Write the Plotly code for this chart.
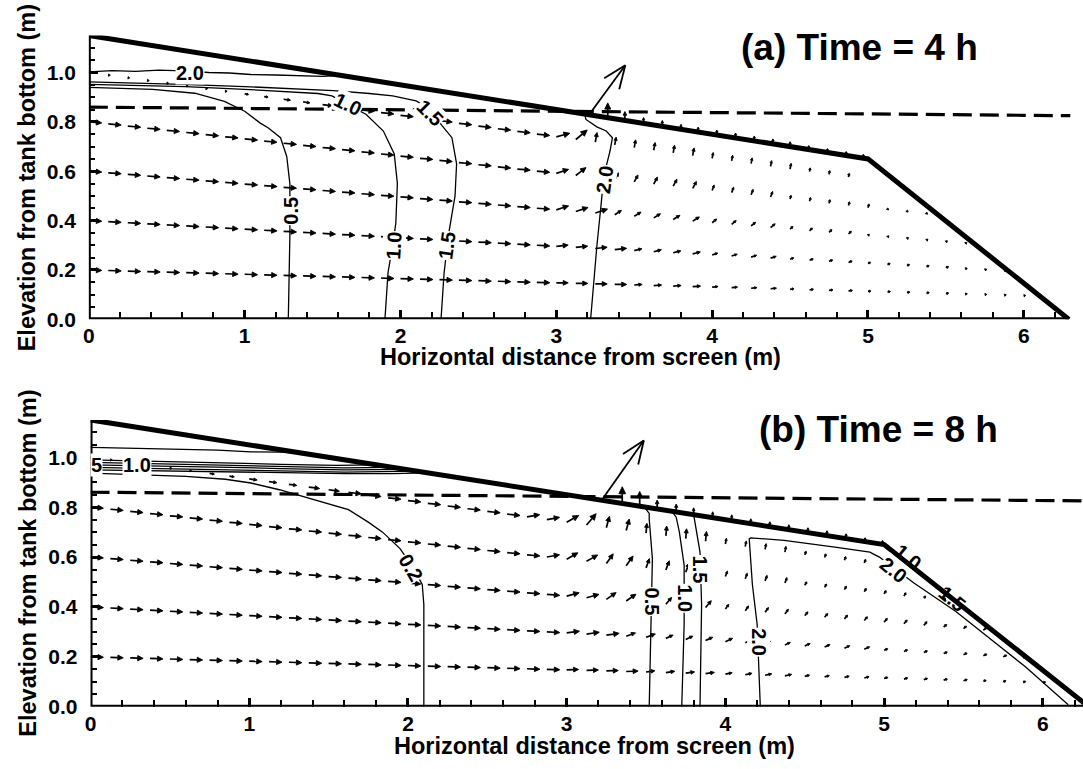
import math
import numpy as np
import plotly.graph_objects as go

W, H = 1083, 769
FONT = "Liberation Sans, Arial, Helvetica, sans-serif"

# ---------------- data ----------------
TANK_TOP_X = [0.0, 5.0, 6.29]
TANK_TOP_Y = [1.15, 0.65, 0.0]
TANK_WALL_X = [0.0, 0.0, 6.29]
TANK_WALL_Y = [1.15, 0.0, 0.0]
WATER_X = [0.0, 6.3]
WATER_Y = [0.86, 0.825]
GRID_TOP_X = [0.0, 6.3]
GRID_TOP_Y = [1.15, 0.52]
ROW_S = [0.174, 0.348, 0.522, 0.696, 0.87]
COL_X = [0.0, 0.125, 0.25, 0.375, 0.5, 0.625, 0.75, 0.875, 1.0, 1.125, 1.25, 1.375,
         1.5, 1.625, 1.75, 1.875, 2.0, 2.125, 2.25, 2.375, 2.5, 2.625, 2.75, 2.875,
         3.0, 3.125, 3.25, 3.375, 3.5, 3.625, 3.75, 3.875, 4.0, 4.125, 4.25, 4.375,
         4.5, 4.625, 4.75, 4.875, 5.0, 5.125, 5.25, 5.375, 5.5, 5.625, 5.75, 5.875,
         6.0, 6.125, 6.25]
X_TICKS = [0, 1, 2, 3, 4, 5, 6]

# velocity bands per grid row: (x from, x to, speed, direction deg)
VEL_A = [
    [(0.0, 3.0, 13, -2), (3.0, 3.4, 12, 0), (3.4, 3.9, 8, 4), (3.9, 4.4, 6, 6), (4.4, 5.0, 4, 8), (5.0, 5.6, 3, 10), (5.6, 6.3, 2, 10)],
    [(0.0, 3.0, 13, -3), (3.0, 3.4, 12, 6), (3.4, 3.9, 8, 14), (3.9, 4.4, 6, 18), (4.4, 5.0, 4, 22), (5.0, 5.6, 3, 25), (5.6, 6.3, 2, 25)],
    [(0.0, 3.0, 13, -4), (3.0, 3.3, 13, 18), (3.3, 3.9, 8, 32), (3.9, 4.4, 6, 40), (4.4, 5.0, 4, 45), (5.0, 6.3, 2, 45)],
    [(0.0, 2.9, 13, -5), (2.9, 3.1, 13, 18), (3.1, 3.3, 13, 38), (3.3, 3.9, 8, 62), (3.9, 4.5, 6, 70), (4.5, 5.1, 4, 75), (5.1, 6.3, 2, 75)],
    [(0.0, 1.0, 2, -5), (1.0, 1.25, 4, -8), (1.25, 1.5, 7, -8), (1.5, 1.75, 10, -8), (1.75, 2.9, 13, -6), (2.9, 3.05, 14, 15),
     (3.05, 3.2, 15, 40), (3.2, 3.35, 10, 80), (3.35, 4.0, 8, 80), (4.0, 4.6, 6, 80), (4.6, 5.0, 4, 80)],
]
VEL_B = [
    [(0.0, 3.0, 13, -2), (3.0, 3.4, 12, 2), (3.4, 3.9, 9, 8), (3.9, 4.4, 7, 12), (4.4, 5.0, 5, 15), (5.0, 5.6, 4, 18), (5.6, 6.3, 3, 20)],
    [(0.0, 3.0, 13, -3), (3.0, 3.3, 13, 8), (3.3, 3.6, 10, 20), (3.6, 4.2, 8, 25), (4.2, 5.0, 6, 25), (5.0, 6.3, 4, 25)],
    [(0.0, 2.9, 13, -4), (2.9, 3.2, 13, 15), (3.2, 3.5, 12, 35), (3.5, 3.9, 9, 50), (3.9, 4.5, 6, 55), (4.5, 5.3, 5, 50), (5.3, 6.3, 4, 40)],
    [(0.0, 2.8, 13, -5), (2.8, 3.0, 13, 10), (3.0, 3.25, 13, 30), (3.25, 3.5, 12, 55), (3.5, 3.9, 10, 70), (3.9, 4.5, 6, 70),
     (4.5, 5.2, 4, 60), (5.2, 6.3, 3, 50)],
    [(0.0, 0.75, 2, -5), (0.75, 1.0, 5, -8), (1.0, 1.3, 8, -8), (1.3, 1.6, 11, -8), (1.6, 2.7, 13, -6), (2.7, 2.95, 13, 10),
     (2.95, 3.1, 14, 30), (3.1, 3.25, 15, 50), (3.25, 3.45, 12, 75), (3.45, 3.9, 10, 85), (3.9, 4.5, 6, 80), (4.5, 5.0, 4, 70)],
]

# outflow vectors on the free surface
SURF_A_X = [3.21, 3.33, 3.44, 3.56, 3.68, 3.80, 3.91, 4.03, 4.15, 4.27, 4.39, 4.50, 4.62, 4.74, 4.86, 4.97]
SURF_A_SPD = [62, 15, 9, 6, 6, 5, 5, 5, 5, 5, 5, 5, 4, 4, 4, 4]
SURF_A_DIR = [54, 90, 90, 90, 90, 90, 90, 90, 90, 90, 90, 90, 90, 90, 90, 90]
SURF_B_X = [3.22, 3.35, 3.46, 3.57, 3.69, 3.80, 3.92, 4.04, 4.16, 4.28, 4.40, 4.52, 4.64, 4.76, 4.88, 4.99]
SURF_B_SPD = [74, 17, 15, 9, 8, 7, 6, 6, 5, 5, 5, 5, 5, 5, 4, 4]
SURF_B_DIR = [55, 90, 90, 90, 90, 90, 90, 90, 90, 90, 90, 90, 90, 90, 90, 90]

# contour lines (x list, y list)
CONT_A = [
    ([0.0, 0.15, 0.3, 0.45, 0.6, 0.77, 0.9, 1.04, 1.2, 1.36, 1.5, 1.62],
     [1.003, 1.008, 1.005, 1.01, 1.007, 1.0, 0.998, 0.992, 0.99, 0.986, 0.984, 0.988]),
    ([0.0, 0.3, 0.6, 1.0, 1.3, 1.57, 1.8, 1.95, 2.1, 2.2, 2.26, 2.33, 2.36, 2.35, 2.31, 2.28, 2.26],
     [0.962, 0.958, 0.952, 0.943, 0.935, 0.927, 0.915, 0.905, 0.885, 0.85, 0.79, 0.736, 0.63, 0.5, 0.35, 0.19, 0.0]),
    ([0.0, 0.3, 0.62, 1.0, 1.2, 1.47, 1.56, 1.66, 1.74, 1.78, 1.89, 1.96, 1.98, 1.97, 1.95, 1.92, 1.9],
     [0.952, 0.947, 0.943, 0.932, 0.925, 0.915, 0.905, 0.87, 0.845, 0.83, 0.763, 0.67, 0.55, 0.39, 0.3, 0.19, 0.0]),
    ([0.0, 0.2, 0.41, 0.68, 0.87, 1.0, 1.1, 1.15, 1.23, 1.27, 1.29, 1.29, 1.28],
     [0.94, 0.936, 0.932, 0.916, 0.883, 0.843, 0.795, 0.776, 0.736, 0.66, 0.55, 0.336, 0.0]),
    ([3.18, 3.19, 3.26, 3.32, 3.36, 3.345, 3.32, 3.30, 3.29, 3.26, 3.22],
     [0.836, 0.81, 0.78, 0.763, 0.736, 0.683, 0.62, 0.55, 0.483, 0.296, 0.0]),
]
LABELS_A = [("2.0", 0.65, 1.0, 0, True), ("1.0", 1.66, 0.872, 26, True), ("1.5", 2.19, 0.835, 45, True),
            ("0.5", 1.297, 0.44, -90, True), ("1.0", 1.96, 0.30, -86, True), ("1.5", 2.30, 0.30, -82, True),
            ("2.0", 3.31, 0.565, -82, True)]

CONT_B = [
    ([0.0, 0.2, 0.4, 0.6, 0.8, 1.01, 1.2, 1.33], [1.04, 1.037, 1.036, 1.031, 1.029, 1.022, 1.021, 1.017]),
    ([0.0, 0.4, 0.8, 1.2, 1.55, 1.8], [0.99, 0.983, 0.978, 0.972, 0.968, 0.97]),
    ([0.0, 0.4, 0.8, 1.2, 1.6, 1.9], [0.98, 0.975, 0.97, 0.964, 0.958, 0.96]),
    ([0.0, 0.4, 0.8, 1.2, 1.6, 1.98], [0.97, 0.966, 0.961, 0.955, 0.95, 0.952]),
    ([0.0, 0.4, 0.8, 1.2, 1.6, 2.05], [0.96, 0.955, 0.951, 0.946, 0.941, 0.945]),
    ([0.0, 0.4, 0.8, 1.2, 1.6, 1.9, 2.12], [0.95, 0.946, 0.942, 0.938, 0.935, 0.935, 0.938]),
    ([0.0, 0.3, 0.6, 0.85, 1.01, 1.19, 1.4, 1.625, 1.75, 1.84, 1.95, 2.03, 2.09, 2.10, 2.10],
     [0.937, 0.93, 0.924, 0.912, 0.897, 0.87, 0.83, 0.79, 0.74, 0.70, 0.634, 0.56, 0.49, 0.41, 0.0]),
    ([3.38, 3.45, 3.49, 3.52, 3.52, 3.54, 3.535, 3.53, 3.52],
     [0.812, 0.805, 0.80, 0.775, 0.752, 0.594, 0.45, 0.33, 0.0]),
    ([3.66, 3.69, 3.71, 3.74, 3.74, 3.725], [0.785, 0.76, 0.70, 0.568, 0.33, 0.0]),
    ([3.80, 3.815, 3.84, 3.85, 3.84], [0.77, 0.713, 0.62, 0.41, 0.0]),
    ([4.22, 4.21, 4.20, 4.17, 4.15, 4.15, 4.16, 4.37, 4.69, 4.91, 4.97, 5.064, 5.19, 5.45, 5.89, 6.16],
     [0.0, 0.17, 0.33, 0.49, 0.647, 0.673, 0.677, 0.667, 0.64, 0.62, 0.60, 0.555, 0.495, 0.383, 0.16, 0.008]),
]
LABELS_B = [("5", 0.035, 0.968, 0, True), ("1.0", 0.29, 0.968, 0, True), ("0.2", 2.02, 0.557, 60, True),
            ("0.5", 3.54, 0.42, 90, True), ("1.0", 3.745, 0.435, 90, True), ("1.5", 3.84, 0.55, 90, True),
            ("2.0", 4.21, 0.26, 90, True), ("2.0", 5.06, 0.55, 39, True), ("1.0", 5.15, 0.60, 39, False),
            ("1.5", 5.43, 0.43, 39, False)]

# ---------------- layout geometry ----------------
PANELS = [
    dict(name="a", xa="x", ya="y", x0=83.3, x1=1070.5, xmax=6.3, yt=36.0, yb=324.0,
         vel=VEL_A, sx=SURF_A_X, ss=SURF_A_SPD, sd=SURF_A_DIR, cont=CONT_A, labels=LABELS_A,
         title="(a) Time = 4 h", tpos=(858, 48), xt=(578, 362), yt_pos=(22, 180)),
    dict(name="b", xa="x2", ya="y2", x0=85.0, x1=1083.0, xmax=6.253, yt=426.0, yb=717.0,
         vel=VEL_B, sx=SURF_B_X, ss=SURF_B_SPD, sd=SURF_B_DIR, cont=CONT_B, labels=LABELS_B,
         title="(b) Time = 8 h", tpos=(877, 436), xt=(592, 757), yt_pos=(22, 571)),
]
YMAX = 1.15
ARROW_SCALE = 1.0  # px per speed unit

fig = go.Figure()
annotations = []


def top_at(x):
    return float(np.interp(x, TANK_TOP_X, TANK_TOP_Y))


for P in PANELS:
    kx = (P["x1"] - P["x0"]) / P["xmax"]
    ky = (P["yb"] - P["yt"]) / YMAX
    xa, ya = P["xa"], P["ya"]

    shaft_x, shaft_y, head_x, head_y = [], [], [], []

    def add_arrow(x, y, L, ang, filled=True, vx=None, vy=None):
        c, s = math.cos(math.radians(ang)), math.sin(math.radians(ang))
        tx, ty = x + L * c / kx, y + L * s / ky
        if filled:
            h = max(0.42 * L, 1.8)
            w = max(0.2 * L, 1.2)
            bx, by = x + (L - h) * c / kx, y + (L - h) * s / ky
            if L - h > 0.3:
                shaft_x.extend([x, bx, None]); shaft_y.extend([y, by, None])
            lx, ly = bx - w * s / kx, by + w * c / ky
            rx, ry = bx + w * s / kx, by - w * c / ky
            head_x.extend([tx, lx, rx, tx, None]); head_y.extend([ty, ly, ry, ty, None])
        else:
            vx.extend([x, tx, None]); vy.extend([y, ty, None])
            arm = 25.0
            for da in (22, -22):
                a2 = math.radians(ang + 180 + da)
                vx.extend([tx, tx + arm * math.cos(a2) / kx, None])
                vy.extend([ty, ty + arm * math.sin(a2) / ky, None])

    for s, segs in zip(ROW_S, P["vel"]):
        for x in COL_X:
            seg = next((g for g in segs if g[0] - 1e-9 <= x < g[1] - 1e-9), None)
            if seg is None:
                continue
            y = s * float(np.interp(x, GRID_TOP_X, GRID_TOP_Y))
            if y > top_at(x) - 0.012:
                continue
            add_arrow(x, y, seg[2] * ARROW_SCALE, seg[3])

    vx, vy = [], []
    for i, (x, spd, d) in enumerate(zip(P["sx"], P["ss"], P["sd"])):
        y = top_at(x)
        if i == 0:
            add_arrow(x, y, spd * ARROW_SCALE, d, filled=False, vx=vx, vy=vy)
        else:
            add_arrow(x, y, spd * ARROW_SCALE, d)

    # contours
    cx, cy = [], []
    for xs, ys in P["cont"]:
        cx.extend(list(xs) + [None]); cy.extend(list(ys) + [None])
    fig.add_trace(go.Scatter(x=cx, y=cy, mode="lines", line=dict(color="black", width=1.3),
                             xaxis=xa, yaxis=ya, hoverinfo="skip", showlegend=False, cliponaxis=True))
    fig.add_trace(go.Scatter(x=shaft_x, y=shaft_y, mode="lines", line=dict(color="black", width=1.7),
                             xaxis=xa, yaxis=ya, hoverinfo="skip", showlegend=False))
    fig.add_trace(go.Scatter(x=head_x, y=head_y, mode="lines", fill="toself", fillcolor="black",
                             line=dict(color="black", width=0.9),
                             xaxis=xa, yaxis=ya, hoverinfo="skip", showlegend=False))
    fig.add_trace(go.Scatter(x=vx, y=vy, mode="lines", line=dict(color="black", width=1.8),
                             xaxis=xa, yaxis=ya, hoverinfo="skip", showlegend=False, cliponaxis=False))
    # water level dashed
    fig.add_trace(go.Scatter(x=WATER_X, y=WATER_Y, mode="lines",
                             line=dict(color="black", width=3.2, dash="19px,8px"),
                             xaxis=xa, yaxis=ya, hoverinfo="skip", showlegend=False))
    # tank outline
    fig.add_trace(go.Scatter(x=TANK_WALL_X, y=TANK_WALL_Y, mode="lines", line=dict(color="black", width=4),
                             xaxis=xa, yaxis=ya, hoverinfo="skip", showlegend=False, cliponaxis=False))
    fig.add_trace(go.Scatter(x=TANK_TOP_X, y=TANK_TOP_Y, mode="lines", line=dict(color="black", width=5),
                             xaxis=xa, yaxis=ya, hoverinfo="skip", showlegend=False, cliponaxis=False))

    for txt, lx, ly, ang, bg in P["labels"]:
        annotations.append(dict(x=lx, y=ly, xref=xa, yref=ya, text=txt, showarrow=False, textangle=ang,
                                font=dict(family=FONT, size=20, color="black", weight="bold"),
                                bgcolor="white" if bg else "rgba(0,0,0,0)", borderpad=0))

    annotations.append(dict(x=P["tpos"][0] / W, y=1 - P["tpos"][1] / H, xref="paper", yref="paper",
                            text=P["title"], showarrow=False, xanchor="center", yanchor="middle",
                            font=dict(family=FONT, size=37, color="black", weight="bold")))
    annotations.append(dict(x=P["xt"][0] / W, y=1 - P["xt"][1] / H, xref="paper", yref="paper",
                            text="Horizontal distance from screen (m)", showarrow=False,
                            xanchor="center", yanchor="middle",
                            font=dict(family=FONT, size=23.5, color="black", weight="bold")))
    annotations.append(dict(x=P["yt_pos"][0] / W, y=1 - P["yt_pos"][1] / H, xref="paper", yref="paper",
                            text="Elevation from tank bottom (m)", showarrow=False, textangle=-90,
                            xanchor="center", yanchor="middle",
                            font=dict(family=FONT, size=23.5, color="black", weight="bold")))

    tickfont = dict(family=FONT, size=21, color="black", weight="bold")
    xdict = dict(domain=[P["x0"] / W, P["x1"] / W], range=[0, P["xmax"]], anchor=ya,
                 showline=False, showgrid=False, zeroline=False,
                 tickmode="array", tickvals=X_TICKS, ticktext=[str(v) for v in X_TICKS],
                 ticks="inside", ticklen=9, tickwidth=2.5, tickcolor="black",
                 minor=dict(ticks="inside", ticklen=7, tickwidth=1.5, tickcolor="black",
                            tickmode="linear", tick0=0, dtick=0.2, showgrid=False),
                 tickfont=tickfont, ticklabelstandoff=2, fixedrange=True)
    ydict = dict(domain=[1 - P["yb"] / H, 1 - P["yt"] / H], range=[0, YMAX], anchor=xa,
                 showline=False, showgrid=False, zeroline=False,
                 tickmode="linear", tick0=0, dtick=0.2, tickformat=".1f",
                 ticks="inside", ticklen=9, tickwidth=2.5, tickcolor="black",
                 minor=dict(ticks="inside", ticklen=6, tickwidth=1.5, tickcolor="black",
                            tickmode="linear", tick0=0, dtick=0.05, showgrid=False),
                 tickfont=tickfont, ticklabelstandoff=12, fixedrange=True)
    if P["name"] == "a":
        fig.update_layout(xaxis=xdict, yaxis=ydict)
    else:
        fig.update_layout(xaxis2=xdict, yaxis2=ydict)

fig.update_layout(width=W, height=H, margin=dict(l=0, r=0, t=0, b=0),
                  paper_bgcolor="white", plot_bgcolor="white", showlegend=False,
                  annotations=annotations, font=dict(family=FONT, color="black"))

fig.write_html("out.html", include_plotlyjs=True, config={"displayModeBar": False})
